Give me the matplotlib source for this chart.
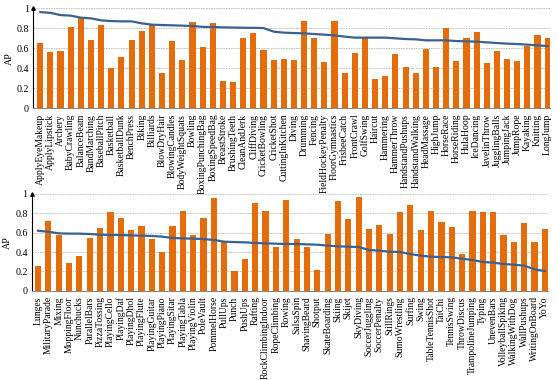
import matplotlib.pyplot as plt
import numpy as np

plt.rcParams['font.family'] = ['Liberation Serif', 'DejaVu Serif']

# top panel
classes_top = ['ApplyEyeMakeup', 'ApplyLipstick', 'Archery', 'BabyCrawling', 'BalanceBeam',
               'BandMarching', 'BaseballPitch', 'Basketball', 'BasketballDunk', 'BenchPress',
               'Biking', 'Billiards', 'BlowDryHair', 'BlowingCandles', 'BodyWeightSquats',
               'Bowling', 'BoxingPunchingBag', 'BoxingSpeedBag', 'BreastStroke', 'BrushingTeeth',
               'CleanAndJerk', 'CliffDiving', 'CricketBowling', 'CricketShot', 'CuttingInKitchen',
               'Diving', 'Drumming', 'Fencing', 'FieldHockeyPenalty', 'FloorGymnastics',
               'FrisbeeCatch', 'FrontCrawl', 'GolfSwing', 'Haircut', 'Hammering',
               'HammerThrow', 'HandstandPushups', 'HandstandWalking', 'HeadMassage', 'HighJump',
               'HorseRace', 'HorseRiding', 'HulaHoop', 'IceDancing', 'JavelinThrow',
               'JugglingBalls', 'JumpingJack', 'JumpRope', 'Kayaking', 'Knitting', 'LongJump']
ap_top = [0.65, 0.563, 0.57, 0.817, 0.90,
          0.68, 0.833, 0.403, 0.517, 0.68,
          0.777, 0.833, 0.35, 0.673, 0.483,
          0.867, 0.61, 0.85, 0.277, 0.267,
          0.707, 0.753, 0.587, 0.483, 0.49,
          0.48, 0.873, 0.707, 0.463, 0.873,
          0.353, 0.557, 0.70, 0.293, 0.32,
          0.54, 0.413, 0.353, 0.593, 0.413,
          0.807, 0.473, 0.707, 0.76, 0.453,
          0.57, 0.49, 0.477, 0.62, 0.733, 0.703]
line_top = [0.963, 0.955, 0.933, 0.927, 0.907,
            0.90, 0.88, 0.873, 0.87, 0.87,
            0.85, 0.837, 0.833, 0.83, 0.827,
            0.823, 0.815, 0.813, 0.81, 0.808,
            0.806, 0.805, 0.803, 0.767, 0.757,
            0.753, 0.75, 0.743, 0.737, 0.73,
            0.717, 0.707, 0.707, 0.707, 0.707,
            0.70, 0.693, 0.69, 0.68, 0.68,
            0.68, 0.673, 0.67, 0.667, 0.66,
            0.653, 0.647, 0.643, 0.637, 0.63, 0.623]

# bottom panel
classes_bot = ['Lunges', 'MilitaryParade', 'Mixing', 'MoppingFloor', 'Nunchucks',
               'ParallelBars', 'PizzaTossing', 'PlayingCello', 'PlayingDaf', 'PlayingDhol',
               'PlayingFlute', 'PlayingGuitar', 'PlayingPiano', 'PlayingSitar', 'PlayingTabla',
               'PlayingViolin', 'PoleVault', 'PommelHorse', 'PullUps', 'Punch',
               'PushUps', 'Rafting', 'RockClimbingIndoor', 'RopeClimbing', 'Rowing',
               'SalsaSpin', 'ShavingBeard', 'Shotput', 'SkateBoarding', 'Skiing',
               'Skijet', 'SkyDiving', 'SoccerJuggling', 'SoccerPenalty', 'StillRings',
               'SumoWrestling', 'Surfing', 'Swing', 'TableTennisShot', 'TaiChi',
               'TennisSwing', 'ThrowDiscus', 'TrampolineJumping', 'Typing', 'UnevenBars',
               'VolleyballSpiking', 'WalkingWithDog', 'WallPushups', 'WritingOnBoard', 'YoYo']
ap_bot = [0.252, 0.72, 0.579, 0.29, 0.362,
          0.541, 0.645, 0.81, 0.748, 0.628,
          0.666, 0.534, 0.403, 0.666, 0.828,
          0.576, 0.752, 0.959, 0.503, 0.20,
          0.331, 0.903, 0.828, 0.455, 0.934,
          0.534, 0.455, 0.214, 0.586, 0.928,
          0.738, 0.966, 0.634, 0.683, 0.59,
          0.814, 0.886, 0.624, 0.821, 0.707,
          0.662, 0.383, 0.828, 0.814, 0.814,
          0.579, 0.507, 0.697, 0.50, 0.641]
line_bot = [0.62, 0.61, 0.593, 0.59, 0.59,
            0.586, 0.579, 0.576, 0.576, 0.572,
            0.569, 0.566, 0.559, 0.545, 0.541,
            0.538, 0.534, 0.524, 0.507, 0.503,
            0.50, 0.493, 0.49, 0.486, 0.483,
            0.483, 0.479, 0.476, 0.466, 0.459,
            0.455, 0.452, 0.421, 0.414, 0.403,
            0.40, 0.379, 0.362, 0.352, 0.348,
            0.345, 0.331, 0.317, 0.297, 0.29,
            0.276, 0.269, 0.259, 0.221, 0.203]

bar_color = '#E46C0A'
line_color = '#3A6193'

fig = plt.figure(figsize=(5.58, 3.80), dpi=100)
ax1 = fig.add_axes([0.059, 0.715, 0.927, 0.263])
ax2 = fig.add_axes([0.057, 0.235, 0.925, 0.2545])


def draw(ax, names, bars, line, xlim):
    x = np.arange(len(names))
    ax.bar(x, bars, width=0.6, color=bar_color, zorder=2)
    ax.plot(x, line, color=line_color, lw=1.6, zorder=3)
    ax.set_xlim(*xlim)
    ax.set_ylim(0, 1)
    ax.set_xticks(x)
    ax.set_xticklabels(names, rotation=90, fontsize=6.9)
    ax.set_yticks([0, 0.2, 0.4, 0.6, 0.8, 1])
    ax.set_yticklabels(['0', '0.2', '0.4', '0.6', '0.8', '1'], fontsize=7.2)
    ax.tick_params(axis='x', length=0, pad=4)
    ax.tick_params(axis='y', length=0, pad=3)
    ax.yaxis.grid(True, color='#BBBBBB', ls=(0, (2, 1)), lw=0.6, zorder=0)
    ax.set_ylabel('AP', fontsize=7.2, labelpad=2)
    for s in ['top', 'right']:
        ax.spines[s].set_visible(False)
    ax.spines['left'].set_color('black')
    ax.spines['left'].set_linewidth(0.8)
    ax.spines['bottom'].set_color('#888888')
    ax.spines['bottom'].set_linewidth(0.8)
    ax.plot(0, 1, '^', color='black', ms=2.5, transform=ax.transAxes, clip_on=False)


draw(ax1, classes_top, ap_top, line_top, (-0.72, 50.25))
draw(ax2, classes_bot, ap_bot, line_bot, (-0.6, 49.3))

fig.savefig('out.png', dpi=100)
